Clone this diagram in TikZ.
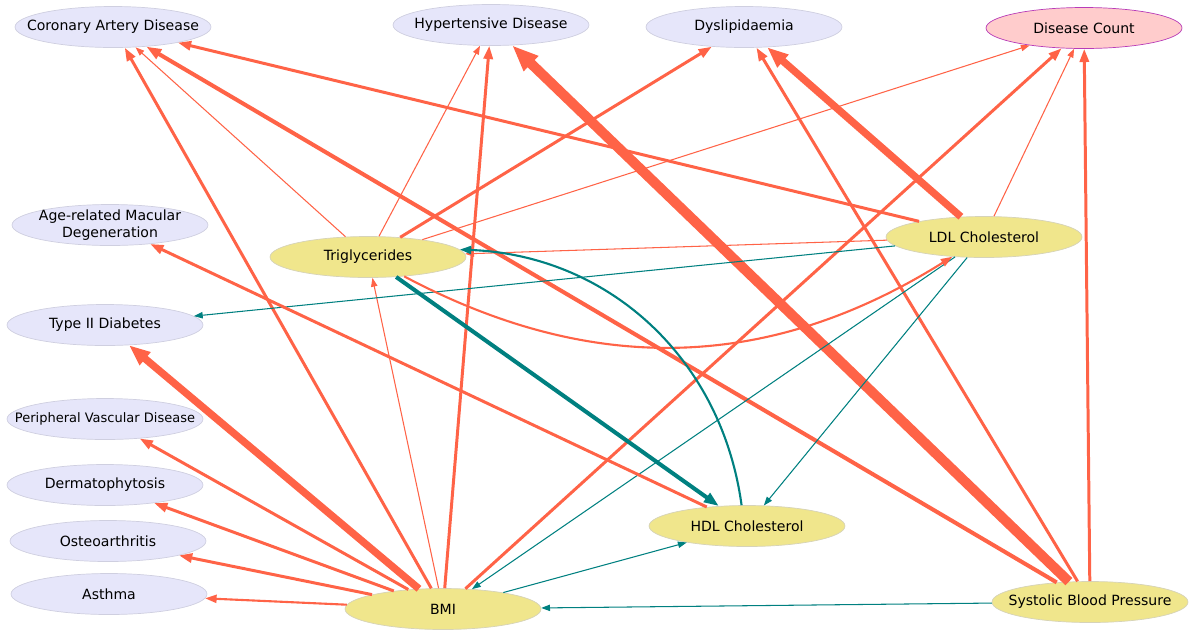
\documentclass[tikz,border=0pt]{standalone}
\usepackage{fontspec}
\setmainfont{DejaVu Sans}
\usepackage{xcolor}
\usepackage{tikz}
\usetikzlibrary{shapes,arrows.meta,positioning}

\definecolor{tomato}{HTML}{FF6347}
\definecolor{tealc}{HTML}{008080}
\definecolor{lavfill}{HTML}{E6E6FA}
\definecolor{lavline}{HTML}{CFCFE0}
\definecolor{khakifill}{HTML}{F0E68C}
\definecolor{khakiline}{HTML}{D6D3B8}
\definecolor{countfill}{HTML}{FFCCCC}
\definecolor{countline}{HTML}{B83CB8}

\begin{document}
\begin{tikzpicture}[
    x=0.02cm, y=-0.02cm,
    font=\fontsize{8}{9.5}\selectfont,
    blob/.style={ellipse, draw, line width=0.4pt, minimum width=3.92cm, minimum height=0.82cm, inner sep=0pt},
    disease/.style={blob, fill=lavfill, draw=lavline, label={[align=center]center:#1}},
    factor/.style={blob, fill=khakifill, draw=khakiline, label={[align=center]center:#1}},
    count/.style={blob, fill=countfill, draw=countline, label={[align=center]center:#1}},
    inc/.style={draw=tomato},
    dec/.style={draw=tealc},
    w1/.style={line width=0.6pt, -{Triangle[length=5pt,width=3.6pt]}},
    w2/.style={line width=1.2pt, -{Triangle[length=6.5pt,width=4.6pt]}},
    w3/.style={line width=1.7pt, -{Triangle[length=7.5pt,width=5.2pt]}},
    w4/.style={line width=2.3pt, -{Triangle[length=8.5pt,width=6pt]}},
    w5/.style={line width=4.2pt, -{Triangle[length=12pt,width=9pt]}},
    w6/.style={line width=5.7pt, -{Triangle[length=15pt,width=11pt]}}
]
    \useasboundingbox (0,0) rectangle (1192,633);

    % outcomes
    \node[disease=Coronary Artery Disease] (cad) at (113,27) {};
    \node[disease=Hypertensive Disease] (hyp) at (491,25) {};
    \node[disease=Dyslipidaemia] (dys) at (744,27) {};
    \node[count=Disease Count] (dc) at (1084,28) {};
    \node[disease={Age-related Macular\\Degeneration}] (amd) at (110,225) {};
    \node[disease=Type II Diabetes] (t2d) at (105,325) {};
    \node[disease={\fontsize{7.4}{9}\selectfont Peripheral Vascular Disease}] (pvd) at (105,419) {};
    \node[disease=Dermatophytosis] (der) at (105,485) {};
    \node[disease=Osteoarthritis] (ost) at (108,541) {};
    \node[disease=Asthma] (ast) at (109,594) {};

    % risk factors
    \node[factor=Triglycerides] (tg) at (368,257) {};
    \node[factor=LDL Cholesterol] (ldl) at (984,237) {};
    \node[factor=HDL Cholesterol] (hdl) at (747,526) {};
    \node[factor=BMI] (bmi) at (443,609) {};
    \node[factor=Systolic Blood Pressure] (sbp) at (1090,602) {};

    % BMI
    \foreach \t/\s in {cad/w3, hyp/w3, dc/w3, t2d/w5, pvd/w3, der/w3, ost/w3, ast/w2, tg/w1}
        \draw[inc, \s] (bmi) -- (\t);
    \draw[dec, w1] (bmi) -- (hdl);

    % Systolic Blood Pressure
    \foreach \t/\s in {cad/w4, hyp/w6, dys/w3, dc/w3}
        \draw[inc, \s] (sbp) -- (\t);
    \draw[dec, w1] (sbp) -- (bmi);

    % LDL Cholesterol
    \foreach \t/\s in {cad/w3, dys/w5, dc/w1, tg/w1}
        \draw[inc, \s] (ldl) -- (\t);
    \foreach \t in {t2d, bmi, hdl}
        \draw[dec, w1] (ldl) -- (\t);

    % Triglycerides
    \foreach \t/\s in {cad/w1, hyp/w1, dys/w3, dc/w1}
        \draw[inc, \s] (tg) -- (\t);
    \draw[dec, w4] (tg) -- (hdl);
    \draw[inc, w2] (tg) to[bend right=30] (ldl);

    % HDL Cholesterol
    \draw[inc, w3] (hdl) -- (amd);
    \draw[dec, w2] (hdl) to[bend right=40] (tg);
\end{tikzpicture}
\end{document}
